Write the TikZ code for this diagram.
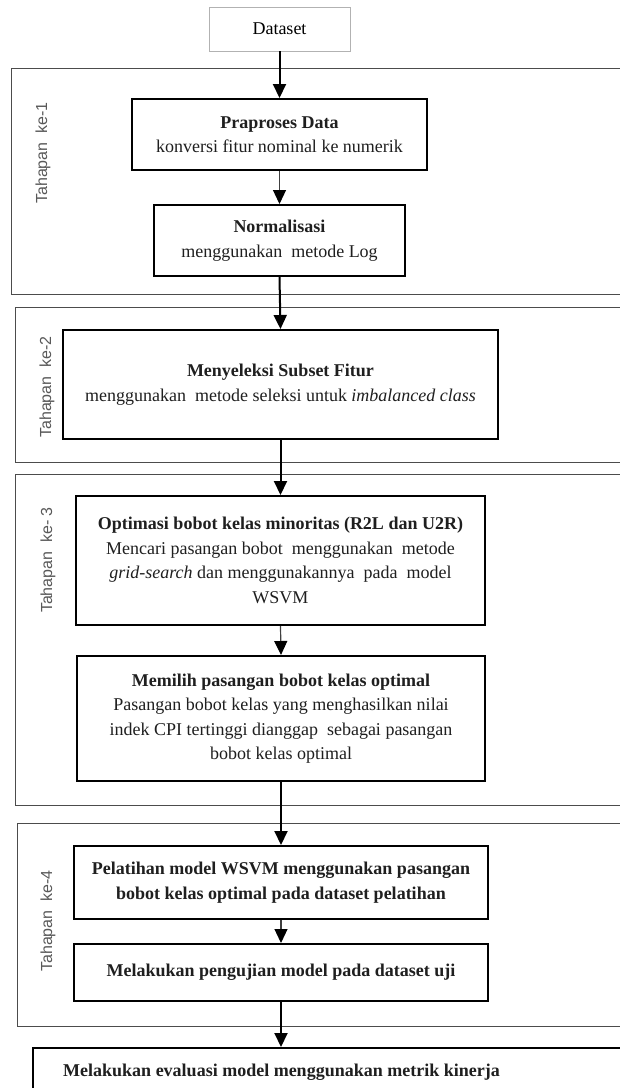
\documentclass[tikz,border=0pt]{standalone}
\usepackage{fontspec}
\setmainfont{Liberation Serif}
\newfontfamily\labelfont{Liberation Sans}
\usetikzlibrary{arrows.meta}
\begin{document}
\begin{tikzpicture}[x=1pt,y=-1pt,
  stage/.style={draw=black!70, line width=1pt, inner sep=0pt, anchor=north west},
  proc/.style={draw=black, line width=2pt, align=center, inner sep=0pt,
    font=\fontsize{18}{24.5}\selectfont, text=black!88},
  flow/.style={line width=2pt, -{Triangle[length=14pt,width=13pt]}},
  flowthin/.style={line width=1.2pt, draw=black!75, -{Triangle[length=14pt,width=13pt,color=black]}},
  stagelabel/.style={rotate=90, font=\labelfont\fontsize{16}{18}\selectfont, text=black!65}
]
\useasboundingbox (0,0) rectangle (620,1088);
\fill[white] (0,0) rectangle (620,1088);

% stage frames (they run past the right edge)
\node[stage, minimum width=640, minimum height=226] (stage1) at (11,68) {};
\node[stage, minimum width=640, minimum height=155] (stage2) at (15,307) {};
\node[stage, minimum width=640, minimum height=331] (stage3) at (15,474) {};
\node[stage, minimum width=640, minimum height=203] (stage4) at (17,823) {};

\node[stagelabel] (lab1) at (43,153) {Tahapan\ \ ke-1};
\node[stagelabel] (lab2) at (47,387) {Tahapan\ \ ke-2};
\node[stagelabel] (lab3) at (48,560) {Tahapan\ \ ke- 3};
\node[stagelabel] (lab4) at (48,921) {Tahapan\ \ ke-4};

% input
\node[draw=black!30, line width=0.8pt, minimum width=141, minimum height=44,
  font=\fontsize{18}{24.5}\selectfont, inner sep=0pt] (dataset) at (279.5,29) {Dataset};

% process steps
\node[proc, minimum width=295, minimum height=71] (prep) at (279.5,134.5)
  {\textbf{Praproses Data}\\konversi fitur nominal ke numerik};
\node[proc, minimum width=251, minimum height=71] (norm) at (279.5,240.5)
  {\textbf{Normalisasi}\\menggunakan\ \ metode Log};
\node[proc, minimum width=435, minimum height=109] (sel) at (280.5,384.5)
  {\textbf{Menyeleksi Subset Fitur}\\menggunakan\ \ metode seleksi untuk \textit{imbalanced class}};
\node[proc, minimum width=409, minimum height=129] (opt) at (280.5,560.5)
  {\textbf{Optimasi bobot kelas minoritas (R2L dan U2R)}\\Mencari pasangan bobot\ \ menggunakan\ \ metode\\\textit{grid-search} dan menggunakannya\ \ pada\ \ model\\WSVM};
\node[proc, minimum width=408, minimum height=125] (pick) at (281,718.5)
  {\textbf{Memilih pasangan bobot kelas optimal}\\Pasangan bobot kelas yang menghasilkan nilai\\indek CPI tertinggi dianggap\ \ sebagai pasangan\\bobot kelas optimal};
\node[proc, minimum width=414, minimum height=73] (train) at (281,882.5)
  {\textbf{Pelatihan model WSVM menggunakan pasangan}\\\textbf{bobot kelas optimal pada dataset pelatihan}};
\node[proc, minimum width=414, minimum height=57] (test) at (281,972.5)
  {\textbf{Melakukan pengujian model pada dataset uji}};

% evaluation box (runs past the right and bottom edges)
\node[draw=black, line width=2pt, inner sep=0pt, anchor=north west,
  minimum width=640, minimum height=90] (eval) at (32,1047) {};
\node[font=\fontsize{18}{24.5}\selectfont, text=black!88, inner sep=0pt] (evaltext) at (281.5,1072)
  {\textbf{Melakukan evaluasi model menggunakan metrik kinerja}};

% connectors
\draw[flow] (dataset.south) -- (prep.north);
\draw[flowthin] (prep.south) -- (norm.north);
\draw[flow] (norm.south) -- (sel.north);
\draw[flow] (sel.south) -- (opt.north);
\draw[flowthin] (opt.south) -- (pick.north);
\draw[flow] (pick.south) -- (train.north);
\draw[flowthin] (train.south) -- (test.north);
\draw[flow] (test.south) -- (test.south |- eval.north);
\end{tikzpicture}
\end{document}
